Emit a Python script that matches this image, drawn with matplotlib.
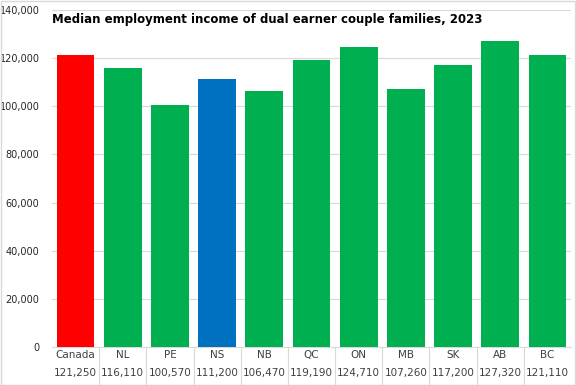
import numpy as np
import matplotlib.pyplot as plt

regions = ["Canada", "NL", "PE", "NS", "NB", "QC", "ON", "MB", "SK", "AB", "BC"]
income = [121250, 116110, 100570, 111200, 106470, 119190, 124710, 107260, 117200, 127320, 121110]
colours = ["#FF0000", "#00B050", "#00B050", "#0070C0", "#00B050", "#00B050",
           "#00B050", "#00B050", "#00B050", "#00B050", "#00B050"]

plt.rcParams['font.family'] = ['DejaVu Sans']

fig = plt.figure(figsize=(5.76, 3.85), dpi=100)
ax = fig.add_axes([52/576, 38/385, 519/576, 337/385])

x = np.arange(len(regions))
ax.bar(x, income, width=0.8, color=colours, zorder=3)
ax.set_xlim(-0.5, len(regions) - 0.5)
ax.set_ylim(0, 140000)
ax.set_yticks(np.arange(0, 140001, 20000))
ax.set_yticklabels([f"{v:,}" for v in range(0, 140001, 20000)], fontsize=7)
ax.tick_params(axis='y', length=0, pad=9, labelcolor='#262626')
ax.set_xticks([])
ax.grid(axis='y', color='#D9D9D9', linewidth=0.8, zorder=0)
for s in ['top', 'right', 'left']:
    ax.spines[s].set_visible(False)
ax.spines['bottom'].set_color('#D9D9D9')

# data table under the axis
for i, (r, v) in enumerate(zip(regions, income)):
    ax.text(i, -0.025, r, transform=ax.get_xaxis_transform(), ha='center', va='center',
            fontsize=7.5, color='#404040')
    ax.text(i, -0.078, f"{v:,}", transform=ax.get_xaxis_transform(), ha='center', va='center',
            fontsize=7.5, color='#404040')
for i in range(len(regions) - 1):
    ax.plot([i + 0.5, i + 0.5], [0, -0.11], transform=ax.get_xaxis_transform(),
            color='#D9D9D9', linewidth=0.8, clip_on=False)

fig.text(52/576, 1 - 19/385, "Median employment income of dual earner couple families, 2023",
         fontsize=8.5, fontweight='bold', va='center', ha='left')

fig.patches.append(plt.Rectangle((0.001, 0.001), 0.997, 0.997, transform=fig.transFigure,
                                 fill=False, edgecolor='#D9D9D9', linewidth=1))

fig.savefig("out.png", dpi=100)
